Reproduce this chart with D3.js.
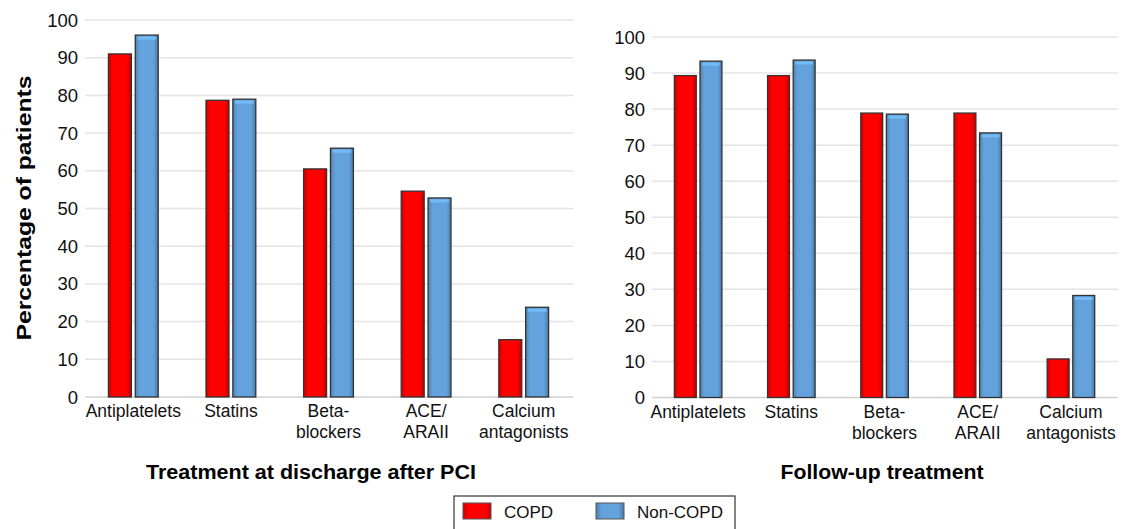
<!DOCTYPE html>
<html><head><meta charset="utf-8">
<script src="https://cdn.jsdelivr.net/npm/d3@7"></script>
<style>body{margin:0;background:#fff}svg{font-family:"Liberation Sans",Arial,sans-serif}</style>
</head><body><svg id="c" width="1144" height="529"></svg>
<script>
const categories = [["Antiplatelets"],["Statins"],["Beta-","blockers"],["ACE/","ARAII"],["Calcium","antagonists"]];
const dischargeCOPD = [91, 78.7, 60.5, 54.6, 15.2];
const dischargeNonCOPD = [96, 79, 66, 52.8, 23.8];
const followCOPD = [89.3, 89.3, 78.9, 78.9, 10.7];
const followNonCOPD = [93.3, 93.6, 78.6, 73.4, 28.3];
const yTicks = [0,10,20,30,40,50,60,70,80,90,100];
const seriesNames = ["COPD","Non-COPD"];
const colors = ["#ff0000","#63a2dc"];

const svg = d3.select("#c");
const defs = svg.append("defs");
colors.forEach((c,i)=>{
  const g = defs.append("linearGradient").attr("id","g"+i).attr("x1",0).attr("x2",1);
  g.append("stop").attr("offset","0").attr("stop-color",d3.color(c).darker(0.6));
  g.append("stop").attr("offset","0.2").attr("stop-color",c);
  g.append("stop").attr("offset","0.8").attr("stop-color",c);
  g.append("stop").attr("offset","1").attr("stop-color",d3.color(c).darker(0.8));
});

function panel(x0,x1,yTop,yBot,a,b,title,tickX,titleLen,titleX){
  const x = d3.scaleBand().domain(d3.range(5)).range([x0,x1]);
  const y = d3.scaleLinear().domain([0,100]).range([yBot,yTop]);
  const g = svg.append("g");
  yTicks.forEach(t=>{
    g.append("line").attr("x1",x0).attr("x2",x1).attr("y1",y(t)).attr("y2",y(t))
     .attr("stroke",t===0?"#d0d0d0":"#e4e4e4").attr("stroke-width",1.5);
    g.append("text").attr("x",tickX).attr("y",y(t)+6.5).attr("text-anchor","end")
     .attr("font-size",18.5).attr("fill","#111").text(t);
  });
  const bw = x.bandwidth()*0.235, gap = x.bandwidth()*0.04;
  const off = x.bandwidth()*0.24;
  [a,b].forEach((vals,si)=>{
    vals.forEach((v,i)=>{
      const bx = x(i)+off+si*(bw+gap);
      g.append("rect").attr("x",bx).attr("y",y(v)).attr("width",bw).attr("height",y(0)-y(v))
       .attr("fill",`url(#g${si})`).attr("stroke","#333").attr("stroke-width",1.3);
      g.append("rect").attr("x",bx+2).attr("y",y(v)+1.5).attr("width",bw-4).attr("height",3)
       .attr("fill",d3.color(colors[si]).brighter(0.5)).attr("opacity",0.8);
    });
  });
  categories.forEach((c,i)=>{
    const cx = x(i)+off+bw+gap/2;
    c.forEach((l,k)=>g.append("text").attr("x",cx).attr("y",yBot+20+k*21).attr("text-anchor","middle")
      .attr("font-size",17.5).attr("fill","#111").text(l));
  });
  g.append("text").attr("x",titleX).attr("y",479).attr("text-anchor","middle")
   .attr("font-size",20).attr("font-weight","bold").attr("textLength",titleLen).attr("lengthAdjust","spacingAndGlyphs").text(title);
}
panel(85,573,20,397,dischargeCOPD,dischargeNonCOPD,"Treatment at discharge after PCI",78,330,311);
panel(652,1118,37,397.5,followCOPD,followNonCOPD,"Follow-up treatment",645,203,882);

svg.append("text").attr("transform","translate(31,208) rotate(-90)").attr("text-anchor","middle")
  .attr("font-size",20).attr("font-weight","bold").attr("textLength",265).attr("lengthAdjust","spacingAndGlyphs").text("Percentage of patients");

const lg = svg.append("g");
lg.append("rect").attr("x",454).attr("y",496).attr("width",281).attr("height",34).attr("fill","#fff").attr("stroke","#333").attr("stroke-width",1.2);
seriesNames.forEach((n,i)=>{
  const sx = [463,596][i];
  lg.append("rect").attr("x",sx).attr("y",503).attr("width",28).attr("height",16).attr("fill",`url(#g${i})`).attr("stroke","#555");
  lg.append("text").attr("x",sx+41).attr("y",518).attr("font-size",17).attr("fill","#111").text(n);
});
</script></body></html>
